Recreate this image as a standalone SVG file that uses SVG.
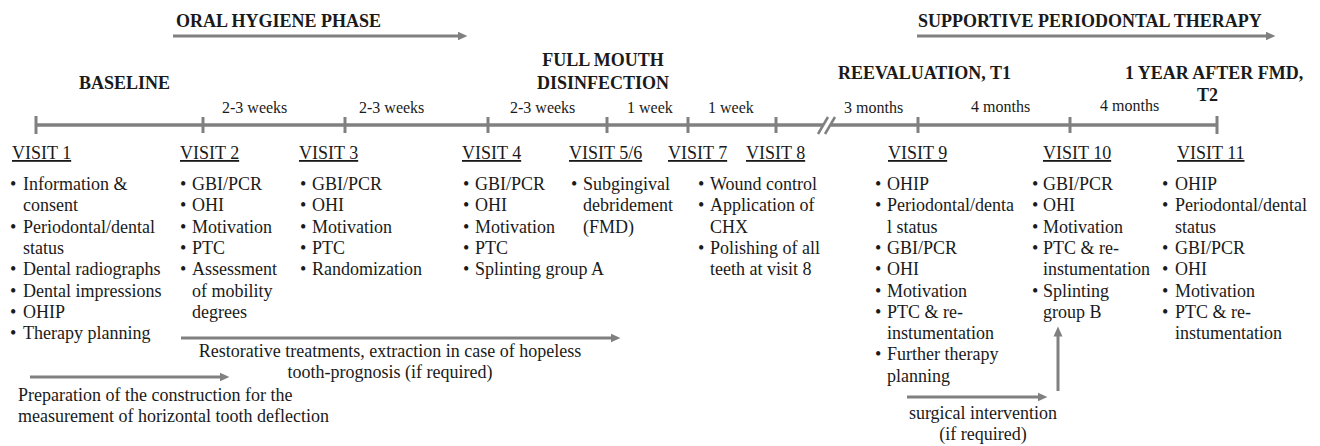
<svg xmlns="http://www.w3.org/2000/svg" width="1320" height="446" viewBox="0 0 1320 446">
<style>
text{font-family:"Liberation Serif","Times New Roman",serif;fill:#1a1a1a}
.h{font-size:18px;font-weight:bold}
.d{font-size:16px}
.v{font-size:18px;text-decoration:underline}
.t{font-size:18px}
.ln{stroke:#808080;stroke-width:3.5;fill:none}
.tk{stroke:#808080;stroke-width:3;fill:none}
.ar{stroke:#808080;stroke-width:3;fill:none;marker-end:url(#ah)}
</style>
<defs>
<marker id="ah" markerWidth="4" markerHeight="4" refX="0.5" refY="2" orient="auto" markerUnits="strokeWidth">
<path d="M0,0.5 L3.3,2 L0,3.5 Z" fill="#808080"/>
</marker>
</defs>
<rect width="1320" height="446" fill="#fff"/>

<g id="connectors">
<line class="ln" x1="36" y1="125" x2="823" y2="125"/>
<line class="ln" x1="831" y1="125" x2="1217" y2="125"/>
<line class="tk" x1="818" y1="134" x2="828" y2="117" style="stroke-width:2.5"/>
<line class="tk" x1="825" y1="134" x2="835" y2="117" style="stroke-width:2.5"/>
<g class="ticks">
<line class="tk" x1="36" y1="116" x2="36" y2="134"/>
<line class="tk" x1="203" y1="117" x2="203" y2="133"/>
<line class="tk" x1="345" y1="117" x2="345" y2="133"/>
<line class="tk" x1="488" y1="117" x2="488" y2="133"/>
<line class="tk" x1="607" y1="117" x2="607" y2="133"/>
<line class="tk" x1="688" y1="117" x2="688" y2="133"/>
<line class="tk" x1="776" y1="117" x2="776" y2="133"/>
<line class="tk" x1="918" y1="117" x2="918" y2="133"/>
<line class="tk" x1="1070" y1="117" x2="1070" y2="133"/>
<line class="tk" x1="1217" y1="116" x2="1217" y2="134"/>
</g>
<line class="ar" x1="173" y1="36" x2="459" y2="36"/>
<line class="ar" x1="917" y1="36" x2="1267" y2="36"/>
<line class="ar" x1="181" y1="338" x2="612" y2="338"/>
<line class="ar" x1="30" y1="377" x2="221" y2="377"/>
<line class="ar" x1="907" y1="397" x2="1039" y2="397"/>
<line class="ar" x1="1058" y1="391" x2="1058" y2="335"/>
</g>

<g id="phases">
<text class="h" x="176" y="27">ORAL HYGIENE PHASE</text>
<text class="h" x="918" y="27">SUPPORTIVE PERIODONTAL THERAPY</text>
<text class="h" x="79" y="89">BASELINE</text>
<text class="h" x="603" y="66" text-anchor="middle">FULL MOUTH</text>
<text class="h" x="603" y="89" text-anchor="middle">DISINFECTION</text>
<text class="h" x="838" y="79">REEVALUATION, T1</text>
<text class="h" x="1125" y="79">1 YEAR AFTER FMD,</text>
<text class="h" x="1197" y="101">T2</text>
</g>

<g id="durations">
<text class="d" x="222" y="113">2-3 weeks</text>
<text class="d" x="359" y="113">2-3 weeks</text>
<text class="d" x="510" y="113">2-3 weeks</text>
<text class="d" x="627" y="113">1 week</text>
<text class="d" x="708" y="113">1 week</text>
<text class="d" x="844" y="113">3 months</text>
<text class="d" x="971" y="112">4 months</text>
<text class="d" x="1100" y="111">4 months</text>
</g>

<g id="visit1">
<text class="v" x="12" y="159">VISIT 1</text>
<text class="t"><tspan x="10" y="190">•</tspan><tspan x="23" y="190">Information &amp;</tspan><tspan x="23" y="211.3">consent</tspan><tspan x="10" y="232.6">•</tspan><tspan x="23" y="232.6">Periodontal/dental</tspan><tspan x="23" y="253.9">status</tspan><tspan x="10" y="275.2">•</tspan><tspan x="23" y="275.2">Dental radiographs</tspan><tspan x="10" y="296.5">•</tspan><tspan x="23" y="296.5">Dental impressions</tspan><tspan x="10" y="317.8">•</tspan><tspan x="23" y="317.8">OHIP</tspan><tspan x="10" y="339.1">•</tspan><tspan x="23" y="339.1">Therapy planning</tspan></text>
</g>

<g id="visit2">
<text class="v" x="180" y="159">VISIT 2</text>
<text class="t"><tspan x="180" y="190">•</tspan><tspan x="192" y="190">GBI/PCR</tspan><tspan x="180" y="211.3">•</tspan><tspan x="192" y="211.3">OHI</tspan><tspan x="180" y="232.6">•</tspan><tspan x="192" y="232.6">Motivation</tspan><tspan x="180" y="253.9">•</tspan><tspan x="192" y="253.9">PTC</tspan><tspan x="180" y="275.2">•</tspan><tspan x="192" y="275.2">Assessment</tspan><tspan x="192" y="296.5">of mobility</tspan><tspan x="192" y="317.8">degrees</tspan></text>
</g>

<g id="visit3">
<text class="v" x="299" y="159">VISIT 3</text>
<text class="t"><tspan x="300" y="190">•</tspan><tspan x="312" y="190">GBI/PCR</tspan><tspan x="300" y="211.3">•</tspan><tspan x="312" y="211.3">OHI</tspan><tspan x="300" y="232.6">•</tspan><tspan x="312" y="232.6">Motivation</tspan><tspan x="300" y="253.9">•</tspan><tspan x="312" y="253.9">PTC</tspan><tspan x="300" y="275.2">•</tspan><tspan x="312" y="275.2">Randomization</tspan></text>
</g>

<g id="visit4">
<text class="v" x="462" y="159">VISIT 4</text>
<text class="t"><tspan x="463" y="190">•</tspan><tspan x="475" y="190">GBI/PCR</tspan><tspan x="463" y="211.3">•</tspan><tspan x="475" y="211.3">OHI</tspan><tspan x="463" y="232.6">•</tspan><tspan x="475" y="232.6">Motivation</tspan><tspan x="463" y="253.9">•</tspan><tspan x="475" y="253.9">PTC</tspan><tspan x="463" y="275.2">•</tspan><tspan x="475" y="275.2">Splinting group A</tspan></text>
</g>

<g id="visit56">
<text class="v" x="569" y="159">VISIT 5/6</text>
<text class="t"><tspan x="571" y="190">•</tspan><tspan x="583" y="190">Subgingival</tspan><tspan x="583" y="211.3">debridement</tspan><tspan x="583" y="232.6">(FMD)</tspan></text>
</g>

<g id="visit7">
<text class="v" x="668" y="159">VISIT 7</text>
</g>

<g id="visit8">
<text class="v" x="746" y="159">VISIT 8</text>
<text class="t"><tspan x="698" y="190">•</tspan><tspan x="710" y="190">Wound control</tspan><tspan x="698" y="211.3">•</tspan><tspan x="710" y="211.3">Application of</tspan><tspan x="710" y="232.6">CHX</tspan><tspan x="698" y="253.9">•</tspan><tspan x="710" y="253.9">Polishing of all</tspan><tspan x="710" y="275.2">teeth at visit 8</tspan></text>
</g>

<g id="visit9">
<text class="v" x="888" y="159">VISIT 9</text>
<text class="t"><tspan x="875" y="190">•</tspan><tspan x="887" y="190">OHIP</tspan><tspan x="875" y="211.3">•</tspan><tspan x="887" y="211.3">Periodontal/denta</tspan><tspan x="887" y="232.6">l status</tspan><tspan x="875" y="253.9">•</tspan><tspan x="887" y="253.9">GBI/PCR</tspan><tspan x="875" y="275.2">•</tspan><tspan x="887" y="275.2">OHI</tspan><tspan x="875" y="296.5">•</tspan><tspan x="887" y="296.5">Motivation</tspan><tspan x="875" y="317.8">•</tspan><tspan x="887" y="317.8">PTC &amp; re-</tspan><tspan x="887" y="339.1">instumentation</tspan><tspan x="875" y="360.4">•</tspan><tspan x="887" y="360.4">Further therapy</tspan><tspan x="887" y="381.7">planning</tspan></text>
</g>

<g id="visit10">
<text class="v" x="1043" y="159">VISIT 10</text>
<text class="t"><tspan x="1032" y="190">•</tspan><tspan x="1043" y="190">GBI/PCR</tspan><tspan x="1032" y="211.3">•</tspan><tspan x="1043" y="211.3">OHI</tspan><tspan x="1032" y="232.6">•</tspan><tspan x="1043" y="232.6">Motivation</tspan><tspan x="1032" y="253.9">•</tspan><tspan x="1043" y="253.9">PTC &amp; re-</tspan><tspan x="1043" y="275.2">instumentation</tspan><tspan x="1032" y="296.5">•</tspan><tspan x="1043" y="296.5">Splinting</tspan><tspan x="1043" y="317.8">group B</tspan></text>
</g>

<g id="visit11">
<text class="v" x="1177" y="159">VISIT 11</text>
<text class="t"><tspan x="1162" y="190">•</tspan><tspan x="1175" y="190">OHIP</tspan><tspan x="1162" y="211.3">•</tspan><tspan x="1175" y="211.3">Periodontal/dental</tspan><tspan x="1175" y="232.6">status</tspan><tspan x="1162" y="253.9">•</tspan><tspan x="1175" y="253.9">GBI/PCR</tspan><tspan x="1162" y="275.2">•</tspan><tspan x="1175" y="275.2">OHI</tspan><tspan x="1162" y="296.5">•</tspan><tspan x="1175" y="296.5">Motivation</tspan><tspan x="1162" y="317.8">•</tspan><tspan x="1175" y="317.8">PTC &amp; re-</tspan><tspan x="1175" y="339.1">instumentation</tspan></text>
</g>

<g id="restorative">
<text class="t" x="390" y="357" text-anchor="middle">Restorative treatments, extraction in case of hopeless</text>
<text class="t" x="390" y="378" text-anchor="middle">tooth-prognosis (if required)</text>
</g>

<g id="preparation">
<text class="t" x="18" y="401">Preparation of the construction for the</text>
<text class="t" x="18" y="422">measurement of horizontal tooth deflection</text>
</g>

<g id="surgical">
<text class="t" x="983" y="419" text-anchor="middle">surgical intervention</text>
<text class="t" x="983" y="440" text-anchor="middle">(if required)</text>
</g>
</svg>
